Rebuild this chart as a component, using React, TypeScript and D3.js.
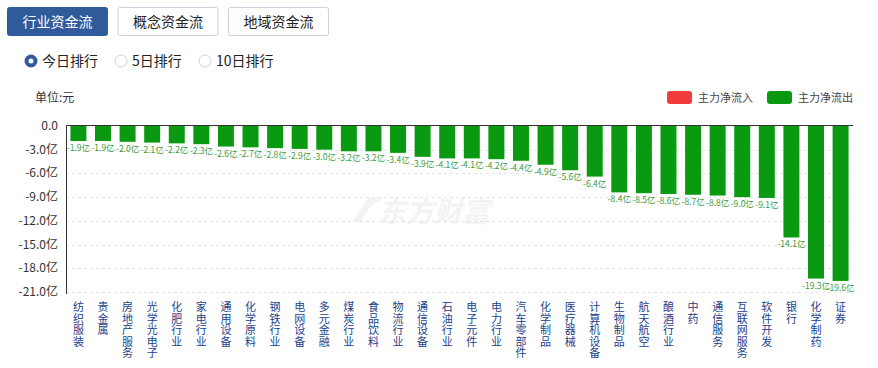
import * as d3 from 'd3';
import { useEffect, useRef } from 'react';

const tabs = ['行业资金流', '概念资金流', '地域资金流'];
const ranks = ['今日排行', '5日排行', '10日排行'];

const sectors = [
  '纺织服装', '贵金属', '房地产服务', '光学光电子', '化肥行业', '家电行业', '通用设备', '化学原料',
  '钢铁行业', '电网设备', '多元金融', '煤炭行业', '食品饮料', '物流行业', '通信设备', '石油行业',
  '电子元件', '电力行业', '汽车零部件', '化学制品', '医疗器械', '计算机设备', '生物制品', '航天航空',
  '酿酒行业', '中药', '通信服务', '互联网服务', '软件开发', '银行', '化学制药', '证券',
];

// 主力净流入 (亿元)
const netFlow = [
  -1.9, -1.9, -2.0, -2.1, -2.2, -2.3, -2.6, -2.7, -2.8, -2.9, -3.0, -3.2, -3.2, -3.4, -3.9, -4.1,
  -4.1, -4.2, -4.4, -4.9, -5.6, -6.4, -8.4, -8.5, -8.6, -8.7, -8.8, -9.0, -9.1, -14.1, -19.3, -19.6,
];

const yTicks = [0, -3, -6, -9, -12, -15, -18, -21];

const GREEN = '#0a9a12';
const RED = '#f23c3c';
const FONT = '"Microsoft YaHei", "Noto Sans CJK SC", sans-serif';

const FlowChart = () => {
  const ref = useRef<null | SVGSVGElement>(null);

  useEffect(() => {
    const width = 878;
    const height = 368;
    const margin = { left: 66, right: 25, top: 126, bottom: 76 };

    const svg = d3.select(ref.current);
    svg.selectAll('*').remove();
    svg.attr('width', width).attr('height', height).style('font-family', FONT);

    const x = d3
      .scaleBand<string>()
      .domain(sectors)
      .range([margin.left, width - margin.right])
      .paddingInner(0.35)
      .paddingOuter(0.18);

    const y = d3
      .scaleLinear()
      .domain([0, -21])
      .range([margin.top, height - margin.bottom]);

    // top tabs
    const tabG = svg.append('g');
    tabs.forEach((t, i) => {
      const x0 = 7 + i * 110.5;
      tabG
        .append('rect')
        .attr('x', x0 + 0.5)
        .attr('y', 7.5)
        .attr('width', 100)
        .attr('height', 28)
        .attr('rx', 2)
        .attr('fill', i === 0 ? '#2f5b9a' : '#fff')
        .attr('stroke', i === 0 ? '#2f5b9a' : '#c9d3e0');
      tabG
        .append('text')
        .attr('x', x0 + 50.5)
        .attr('y', 26.5)
        .attr('text-anchor', 'middle')
        .attr('font-size', 14)
        .attr('fill', i === 0 ? '#fff' : '#222')
        .text(t);
    });

    // radio options
    const radioX = [31, 121, 205];
    ranks.forEach((r, i) => {
      const cx = radioX[i];
      if (i === 0) {
        svg.append('circle').attr('cx', cx).attr('cy', 61).attr('r', 4.5).attr('fill', '#fff')
          .attr('stroke', '#2f5b9a').attr('stroke-width', 4);
      } else {
        svg.append('circle').attr('cx', cx).attr('cy', 61).attr('r', 6).attr('fill', '#fff')
          .attr('stroke', '#c8d4e2').attr('stroke-width', 1);
      }
      svg.append('text').attr('x', cx + 11).attr('y', 66).attr('font-size', 14).attr('fill', '#222').text(r);
    });

    // unit
    svg.append('text').attr('x', 35).attr('y', 102).attr('font-size', 12).attr('fill', '#333').text('单位:元');

    // legend
    const legend = [
      { label: '主力净流入', color: RED, x: 667 },
      { label: '主力净流出', color: GREEN, x: 767 },
    ];
    legend.forEach((l) => {
      svg.append('rect').attr('x', l.x).attr('y', 91).attr('width', 25).attr('height', 13).attr('rx', 3).attr('fill', l.color);
      svg.append('text').attr('x', l.x + 31).attr('y', 102).attr('font-size', 11).attr('fill', '#444').text(l.label);
    });

    // watermark
    const wm = svg.append('g');
    wm.append('path')
      .attr('d', 'M352,222 L368,198 L376,198 L360,222 Z M362,210 L378,196 L382,200 Z')
      .attr('fill', '#f3f3f3');
    wm.append('text')
      .attr('x', 378)
      .attr('y', 222)
      .attr('font-size', 28)
      .attr('font-weight', 'bold')
      .attr('font-style', 'italic')
      .attr('fill', '#f3f3f3')
      .text('东方财富');

    // grid
    svg
      .append('g')
      .selectAll('line')
      .data(yTicks.filter((t) => t !== 0))
      .join('line')
      .attr('x1', margin.left)
      .attr('x2', width - margin.right)
      .attr('y1', (d) => Math.round(y(d)) + 0.5)
      .attr('y2', (d) => Math.round(y(d)) + 0.5)
      .attr('stroke', '#e4e4e4')
      .attr('stroke-dasharray', '3,3');

    // y axis labels
    svg
      .append('g')
      .selectAll('text')
      .data(yTicks)
      .join('text')
      .attr('x', 58)
      .attr('y', (d) => y(d) + 4)
      .attr('text-anchor', 'end')
      .attr('font-size', 12)
      .attr('fill', '#333')
      .text((d) => (d === 0 ? '0.0' : `${d.toFixed(1)}亿`));

    // bars
    svg
      .append('g')
      .selectAll('rect')
      .data(netFlow)
      .join('rect')
      .attr('x', (_, i) => x(sectors[i])!)
      .attr('y', (d) => y(Math.max(0, d)))
      .attr('width', x.bandwidth())
      .attr('height', (d) => Math.abs(y(d) - y(0)))
      .attr('fill', (d) => (d < 0 ? GREEN : RED));

    // value labels
    svg
      .append('g')
      .selectAll('text')
      .data(netFlow)
      .join('text')
      .attr('x', (_, i) => x(sectors[i])! + x.bandwidth() / 2)
      .attr('y', (d) => y(d) + 10)
      .attr('text-anchor', 'middle')
      .attr('font-size', 8.5)
      .attr('fill', '#3a9a3a')
      .text((d) => `${d.toFixed(1)}亿`);

    // axis lines
    svg.append('line').attr('x1', margin.left).attr('x2', width - margin.right)
      .attr('y1', margin.top - 0.5).attr('y2', margin.top - 0.5).attr('stroke', '#333');
    svg.append('line').attr('x1', margin.left + 0.5).attr('x2', margin.left + 0.5)
      .attr('y1', margin.top - 1).attr('y2', height - margin.bottom + 2).attr('stroke', '#333');

    // vertical category labels, one character per line
    const cat = svg
      .append('g')
      .selectAll('text')
      .data(sectors)
      .join('text')
      .attr('text-anchor', 'middle')
      .attr('font-size', 11)
      .attr('fill', '#1c3f8c');
    cat
      .selectAll('tspan')
      .data((d, i) => Array.from(d).map((c) => ({ c, i })))
      .join('tspan')
      .attr('x', (d) => x(sectors[d.i])! + x.bandwidth() / 2)
      .attr('y', (_, j) => 311 + j * 11.6)
      .text((d) => d.c);
  }, []);

  return <svg ref={ref} />;
};

export default function App() {
  return (
    <div style={{ position: 'absolute', left: 0, top: 0 }}>
      <FlowChart />
    </div>
  );
}
